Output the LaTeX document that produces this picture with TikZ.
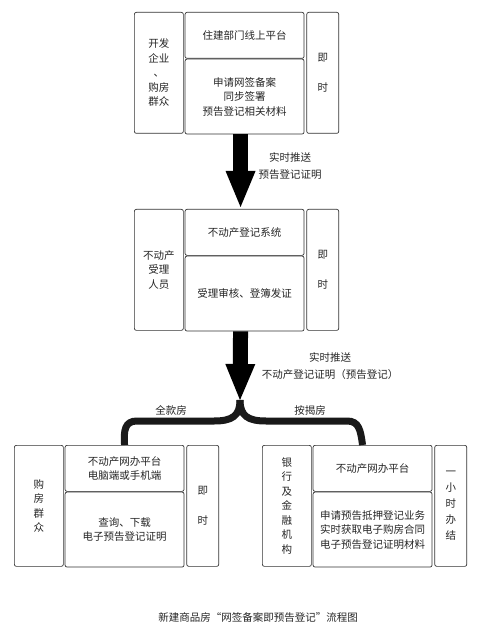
\documentclass[tikz,border=0pt]{standalone}
\usepackage{fontspec}
\setmainfont{Noto Sans CJK SC}
\usetikzlibrary{positioning}
\usetikzlibrary{arrows.meta}
\tikzstyle{entry}=[draw=black!80, line width=0.7pt, rounded corners=2pt, inner sep=0pt, align=center, text=black!85, font=\fontsize{10.5}{14.5}\selectfont]
\tikzstyle{actor}=[entry, minimum width=49pt, minimum height=121pt, anchor=north west]
\tikzstyle{head}=[entry, minimum width=119pt, minimum height=46pt]
\tikzstyle{work}=[entry, minimum width=119pt, minimum height=75pt]
\tikzstyle{timing}=[entry, minimum width=32pt, minimum height=121pt]
\tikzstyle{note}=[align=center, text=black!85, font=\fontsize{10.5}{17}\selectfont]
\tikzstyle{push}=[line width=15pt, -{Triangle[width=30pt,length=36pt,line width=0pt]}]
\tikzstyle{fork}=[line width=7pt, black!90]

\begin{document}
\begin{tikzpicture}[x=1pt,y=-1pt]
\useasboundingbox [fill=white] (0,0) rectangle (500,636);

% online signing
\node (who1) [actor] at (134,12) {开发\\企业\\、\\购房\\群众};
\node (top1) [head, right=1pt of who1.north east, anchor=north west] {住建部门线上平台};
\node (job1) [work, below=0pt of top1.south west, anchor=north west] {申请网签备案\\同步签署\\预告登记相关材料};
\node (time1) [timing, right=2pt of top1.north east, anchor=north west] {即\\[15pt]时};

% registration office
\node (who2) [actor] at (134,209) {不动产\\受理\\人员};
\node (top2) [head, right=1pt of who2.north east, anchor=north west] {不动产登记系统};
\node (job2) [work, below=0pt of top2.south west, anchor=north west] {受理审核、登簿发证};
\node (time2) [timing, right=2pt of top2.north east, anchor=north west] {即\\[15pt]时};

% full payment
\node (who3) [actor] at (14,445) {购\\房\\群\\众};
\node (top3) [head, right=1pt of who3.north east, anchor=north west] {不动产网办平台\\电脑端或手机端};
\node (job3) [work, below=0pt of top3.south west, anchor=north west] {查询、下载\\电子预告登记证明};
\node (time3) [timing, right=2pt of top3.north east, anchor=north west] {即\\[15pt]时};

% mortgage
\node (who4) [actor] at (262,445) {银\\行\\及\\金\\融\\机\\构};
\node (top4) [head, right=1pt of who4.north east, anchor=north west] {不动产网办平台};
\node (job4) [work, below=0pt of top4.south west, anchor=north west] {申请预告抵押登记业务\\实时获取电子购房合同\\电子预告登记证明材料};
\node (time4) [timing, right=2pt of top4.north east, anchor=north west] {一\\[1.5pt]小\\[1.5pt]时\\[1.5pt]办\\[1.5pt]结};

\coordinate (split) at (240,400);

\draw [push, shorten >=2pt] ([xshift=-4pt]job1.south) -- ([xshift=-4pt]top2.north);
\draw [push] ([xshift=-4pt]job2.south) -- (split);

\draw [fork] (split) .. controls (240,416) and (232,421) .. (214,421) -- (137,421) .. controls (125,421) and (123.5,430) .. (top3.north);
\draw [fork] (split) .. controls (240,416) and (248,421) .. (266,421) -- (347,421) .. controls (359,421) and (360.5,430) .. ([xshift=-10pt]top4.north);

\node (note1) [note] at (290,166.5) {实时推送\\预告登记证明};
\node (note2) [note] at (330,366.5) {实时推送\\不动产登记证明（预告登记）};
\node (full) [note] at (171,410) {全款房};
\node (loan) [note] at (310,410) {按揭房};

\node (caption) [note] at (258,618) {新建商品房“网签备案即预告登记”流程图};
\end{tikzpicture}
\end{document}
